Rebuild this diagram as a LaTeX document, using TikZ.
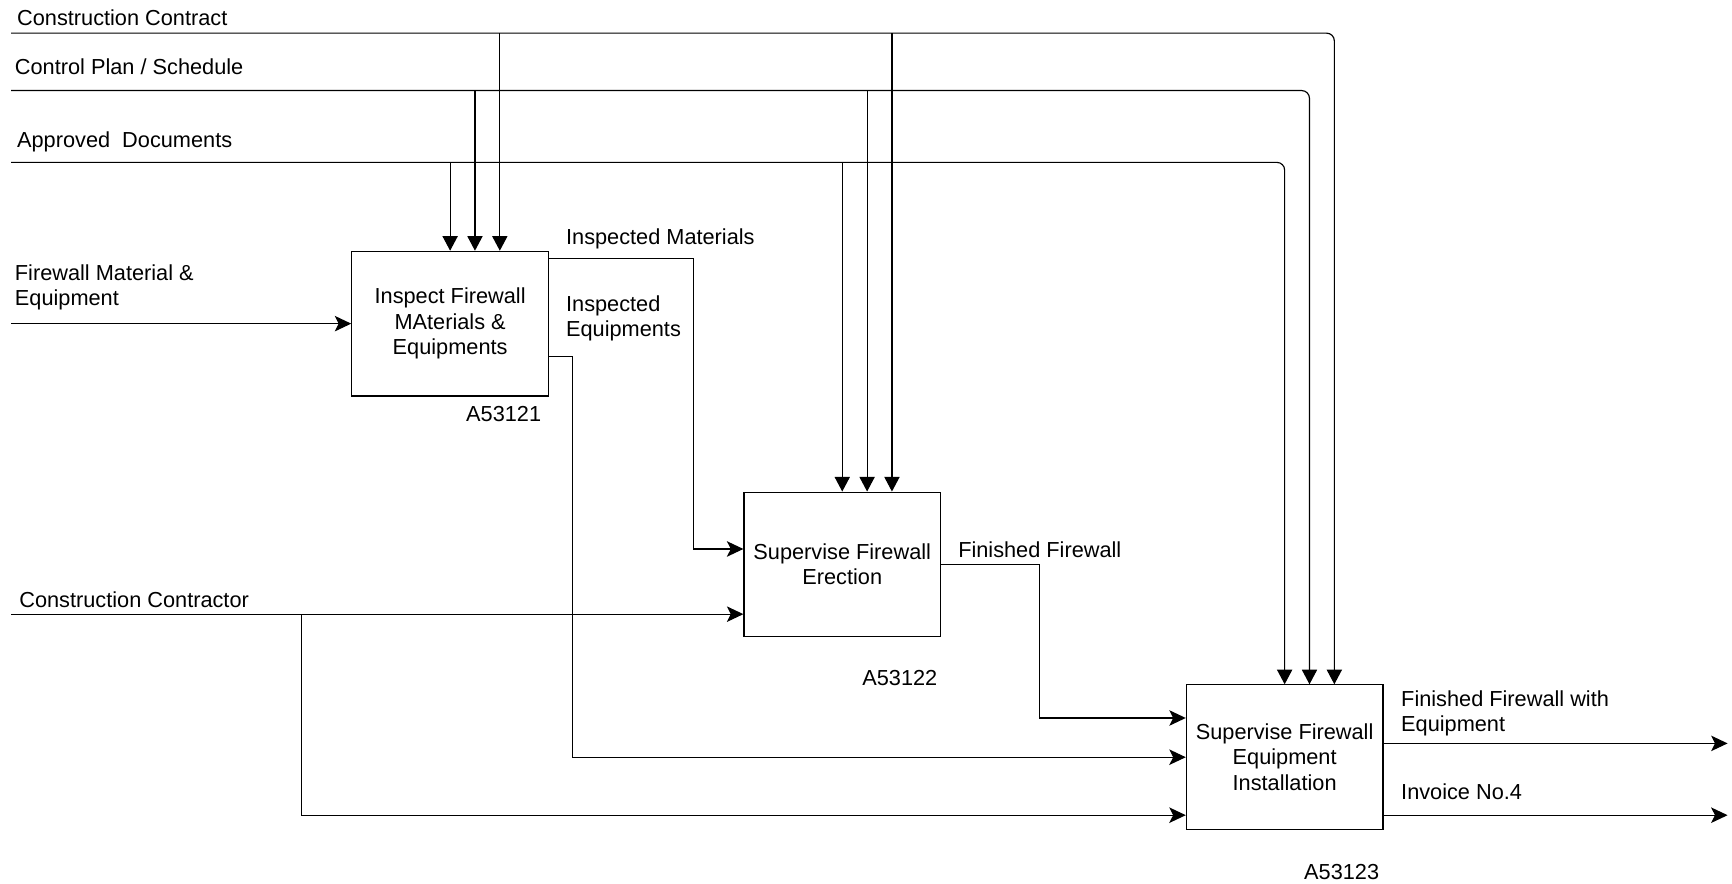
\documentclass[tikz,border=0pt]{standalone}
\usepackage{fontspec}
\setmainfont{Liberation Sans}
\usepackage{tikz}
\usetikzlibrary{positioning, arrows.meta, calc}

\begin{document}
\begin{tikzpicture}[x=0.02cm, y=-0.02cm, line width=0.6pt,
		font=\fontsize{11.2}{13.1}\selectfont,
		box/.style={draw, minimum width=3.56cm, minimum height=2.62cm, align=center, inner sep=0pt},
		lbl/.style={anchor=north west, inner sep=0pt, align=left},
		code/.style={anchor=north, inner sep=0pt},
		ctrl/.style={-{Triangle[length=7.5pt, width=7.8pt]}},
		flow/.style={-{Stealth[length=8.5pt, width=8pt, inset=2pt]}},
		roundbend/.style={rounded corners=4pt}]
	\useasboundingbox (0,0) rectangle (1568,800);
	% activity boxes
	\node[box] (insp) at (407.5,293) {Inspect Firewall\\MAterials \&\\Equipments};
	\node[box] (erect) at (762.5,511) {Supervise Firewall\\Erection};
	\node[box] (inst) at (1163,685.5) {Supervise Firewall\\Equipment\\Installation};
	\foreach \b in {insp, erect, inst} {
		\coordinate (\b-a) at (\b.north);
		\coordinate (\b-b) at ([xshift=0.45cm]\b.north);
		\coordinate (\b-c) at ([xshift=0.9cm]\b.north);
	}
	% controls
	\coordinate (contract) at (10,30);
	\coordinate (plan) at (10,82);
	\coordinate (approved) at (10,147);
	\draw[ctrl, roundbend] (contract) -| (inst-c);
	\draw[ctrl, roundbend] (plan) -| (inst-b);
	\draw[ctrl, roundbend] (approved) -| (inst-a);
	\foreach \b in {insp, erect} {
		\draw[ctrl] (\b-c |- contract) -- (\b-c);
		\draw[ctrl] (\b-b |- plan) -- (\b-b);
		\draw[ctrl] (\b-a |- approved) -- (\b-a);
	}
	% inputs
	\coordinate (fwm) at (10,293);
	\draw[flow] (fwm) -- (insp.west);
	\coordinate (cctr) at (10,556);
	\coordinate (cctr-split) at (273,556);
	\draw[flow] (cctr) -- (cctr -| erect.west);
	\draw[flow] (cctr-split) |- ([yshift=-1.05cm]inst.west);
	% links between boxes
	\draw[flow] ([yshift=-0.14cm]insp.north east) -| ([xshift=-0.9cm, yshift=0.28cm]erect.west) -- ([yshift=0.28cm]erect.west);
	\draw[flow] ([yshift=-0.6cm]insp.east) -- ++(0.42cm,0) |- (inst.west);
	\draw[flow] (erect.east) -- ++(1.78cm,0) |- ([yshift=0.71cm]inst.west);
	% outputs
	\coordinate (fin) at (1564,673);
	\coordinate (inv) at (1564,738);
	\draw[flow] (inst.east |- fin) -- (fin);
	\draw[flow] (inst.east |- inv) -- (inv);
	% labels
	\node[lbl] (l-contract) at (15,8.4) {Construction Contract};
	\node[lbl] (l-plan) at (13,52.8) {Control Plan / Schedule};
	\node[lbl] (l-approved) at (15,119) {Approved\ \ Documents};
	\node[lbl] (l-fwm) at (13,239) {Firewall Material \&\\Equipment};
	\node[lbl] (l-mat) at (512,207) {Inspected Materials};
	\node[lbl] (l-equ) at (512,267) {Inspected\\Equipments};
	\node[lbl] (l-cctr) at (17,535) {Construction Contractor};
	\node[lbl] (l-fin) at (867,489.5) {Finished Firewall};
	\node[lbl] (l-finout) at (1268,624.7) {Finished Firewall with\\Equipment};
	\node[lbl] (l-inv) at (1268,709) {Invoice No.4};
	\node[code] (c1) at (456,367.5) {A53121};
	\node[code] (c2) at (814.6,606.6) {A53122};
	\node[code] (c3) at (1214.6,781.5) {A53123};
\end{tikzpicture}
\end{document}
